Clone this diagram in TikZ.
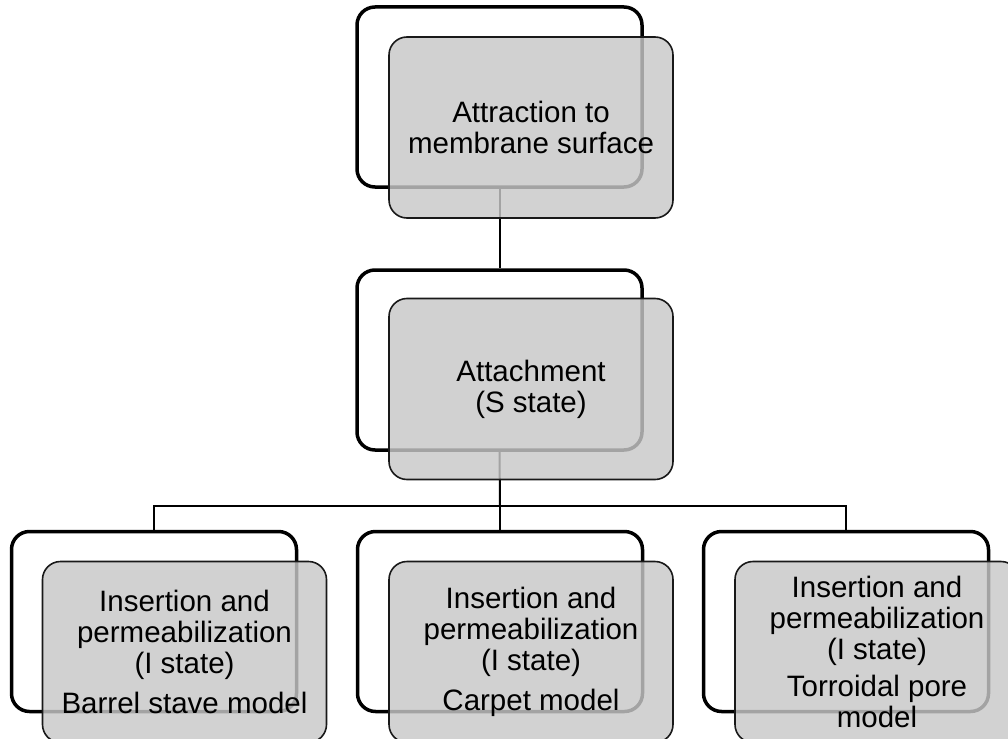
\documentclass[tikz,border=0pt]{standalone}
\usepackage{fontspec}
\setmainfont{Liberation Sans}
\definecolor{frontfill}{RGB}{200,200,200}
\begin{document}
\begin{tikzpicture}[x=1pt,y=-1pt,
  backbox/.style={draw=black, line width=3.5pt, rounded corners=18pt, fill=white,
    minimum width=285pt, minimum height=180pt, inner sep=0pt},
  frontbox/.style={draw=black!90, line width=1.6pt, rounded corners=18pt,
    fill=frontfill, fill opacity=0.82, text opacity=1, text=black,
    minimum width=284pt, minimum height=181pt, inner sep=0pt, align=center,
    font=\fontsize{29.5}{31}\selectfont},
  conn/.style={draw=black, line width=2pt}]
\useasboundingbox (0,0) rectangle (1008,738);
\clip (0,0) rectangle (1008,738);
% back boxes
\node[backbox] (topback) at (499.5,97) {};
\node[backbox] (midback) at (499.5,360) {};
\node[backbox] (lback) at (154,621.5) {};
\node[backbox] (cback) at (500,621.5) {};
\node[backbox] (rback) at (846,621.5) {};
% connectors
\coordinate (j) at (500,506);
\draw[conn] (topback.south) -- (midback.north);
\draw[conn] (midback.south) -- (j);
\draw[conn, line width=1.5pt] (lback.north) |- (j) -| (rback.north);
\draw[conn] (j) -- (cback.north);
% front boxes
\node[frontbox] (topfront) at (531,127.5) {Attraction to\\membrane surface};
\node[frontbox] (midfront) at (531,389) {Attachment\\(S state)};
\node[frontbox] (lfront) at (184.5,652) {Insertion and\\permeabilization\\(I state)\\[9pt]Barrel stave model};
\node[frontbox] (cfront) at (531,652) {Insertion and\\permeabilization\\(I state)\\[9pt]Carpet model};
\node[frontbox] (rfront) at (877,652) {Insertion and\\permeabilization\\(I state)\\[6pt]Torroidal pore\\model};
\end{tikzpicture}
\end{document}
